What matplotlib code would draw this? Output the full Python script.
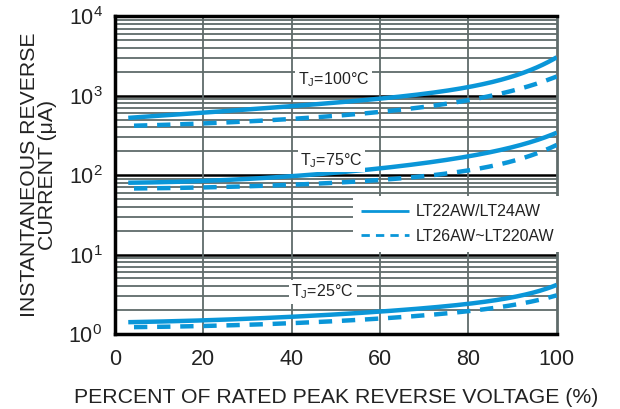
import numpy as np
import matplotlib
matplotlib.use("Agg")
import matplotlib.pyplot as plt
from matplotlib.ticker import FixedLocator, NullFormatter

plt.rcParams['font.family'] = ['Liberation Sans', 'DejaVu Sans']
plt.rcParams['mathtext.fontset'] = 'custom'
plt.rcParams['mathtext.rm'] = 'Liberation Sans'
plt.rcParams['mathtext.it'] = 'Liberation Sans:italic'

# percent of rated peak reverse voltage
pct = [3, 20, 40, 60, 70, 80, 90, 95, 100]

# TJ = 100 C
solid_100 = [537, 585, 760, 950, 1040, 1250, 1750, 2300, 3000]
dash_100 = [422, 438, 517, 640, 722, 845, 1180, 1420, 1725]
# TJ = 75 C
solid_75 = [81, 83, 98, 123, 143, 170, 221, 281, 338]
dash_75 = [68, 70, 75, 88, 100, 110, 150, 190, 237]
# TJ = 25 C
solid_25 = [1.42, 1.46, 1.65, 1.96, 2.1, 2.36, 2.9, 3.4, 4.13]
dash_25 = [1.22, 1.26, 1.36, 1.58, 1.73, 1.91, 2.3, 2.65, 3.05]

temp_labels = ['T$_{\\mathrm{J}}$=100°C', 'T$_{\\mathrm{J}}$=75°C', 'T$_{\\mathrm{J}}$=25°C']
temp_pos = [(49.5, 1613), (49, 154), (47, 3.38)]

legend_names = ['LT22AW/LT24AW', 'LT26AW~LT220AW']

blue = '#0a96d8'
grid_gray = '#5f6b6a'


def smooth(xs, ys, n=300):
    # least squares smooth curve through the read points (log space)
    x = np.asarray(xs, float)
    ly = np.log10(np.asarray(ys, float))
    best = None
    for tau in np.arange(6, 40, 1.0):
        B = np.column_stack([np.ones_like(x), x, x**2, np.exp((x - 100) / tau)])
        c, res, *_ = np.linalg.lstsq(B, ly, rcond=None)
        err = np.sum((B @ c - ly) ** 2)
        if best is None or err < best[0]:
            best = (err, tau, c)
    _, tau, c = best
    xx = np.linspace(x[0], x[-1], n)
    B = np.column_stack([np.ones_like(xx), xx, xx**2, np.exp((xx - 100) / tau)])
    return xx, 10 ** (B @ c)


fig = plt.figure(figsize=(6.2, 4.09), dpi=100)
ax = fig.add_axes([0.1855, 0.1834, 0.7125, 0.7766])

ax.set_xlim(0, 100)
ax.set_yscale('log')
ax.set_ylim(1, 1e4)

# grid
for d in [1, 10, 100, 1000]:
    for m in range(2, 10):
        ax.axhline(d * m, color=grid_gray, lw=1.3, zorder=1)
for d in [10, 100, 1000]:
    ax.axhline(d, color='black', lw=1.8, zorder=1)
for xv in [20, 40, 60, 80]:
    ax.axvline(xv, color=grid_gray, lw=1.3, zorder=1)

sols = [solid_100, solid_75, solid_25]
dashes = [dash_100, dash_75, dash_25]
for i in range(3):
    x1, y1 = smooth(pct, sols[i])
    x2, y2 = smooth(pct, dashes[i])
    ax.plot(x1, y1, color=blue, lw=3.2, solid_capstyle='butt', zorder=3,
            label=legend_names[0] if i == 0 else None)
    ax.plot(x2[x2 >= 4], y2[x2 >= 4], color=blue, lw=3.2, dashes=(3, 2.2), zorder=3,
            label=legend_names[1] if i == 0 else None)

for lab, (tx, ty) in zip(temp_labels, temp_pos):
    ax.text(tx, ty, lab, ha='center', va='center', fontsize=11.5, color='#222222',
            bbox=dict(facecolor='white', edgecolor='none', pad=2), zorder=4)

leg = ax.legend(loc='lower left', bbox_to_anchor=(0.539, 0.258), frameon=True,
                fancybox=False, framealpha=1, edgecolor='none', facecolor='white',
                fontsize=11.5, handlelength=3.0, handletextpad=0.4,
                borderpad=0.5, labelspacing=0.6, borderaxespad=0)
leg.set_zorder(5)
for h in leg.get_lines():
    h.set_linewidth(2)
for t in leg.get_texts():
    t.set_color('#222222')

ax.set_xticks([0, 20, 40, 60, 80, 100])
ax.yaxis.set_major_locator(FixedLocator([1, 10, 100, 1000, 10000]))
ax.yaxis.set_minor_formatter(NullFormatter())
ax.yaxis.set_minor_locator(FixedLocator([]))
ax.set_yticklabels(['10$^{0}$', '10$^{1}$', '10$^{2}$', '10$^{3}$', '10$^{4}$'])
ax.tick_params(axis='both', length=0, labelsize=15.5, colors='#222222')
ax.tick_params(axis='x', pad=11)
ax.tick_params(axis='y', pad=9)

for side in ['left', 'bottom', 'top']:
    ax.spines[side].set_color('black')
    ax.spines[side].set_linewidth(2.5)
ax.spines['right'].set_color(grid_gray)
ax.spines['right'].set_linewidth(2)

ax.set_xlabel('PERCENT OF RATED PEAK REVERSE VOLTAGE (%)', fontsize=15.3,
              color='#222222', labelpad=13)
ax.set_ylabel('INSTANTANEOUS REVERSE\nCURRENT (μA)', fontsize=15.3,
              color='#222222', labelpad=8, linespacing=0.95)

fig.savefig('out.png', dpi=100)
